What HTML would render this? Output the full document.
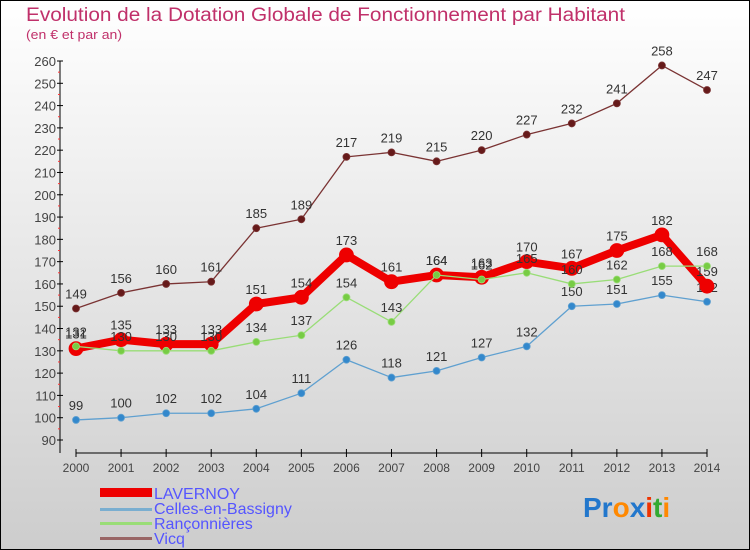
<!DOCTYPE html>
<html><head><meta charset="utf-8"><style>
body{margin:0}
svg{display:block;font-family:"Liberation Sans",sans-serif}
</style></head><body>
<svg id="c" width="750" height="550">
<defs><linearGradient id="bg" x1="0" y1="0" x2="0" y2="1"><stop offset="0" stop-color="#ffffff"/><stop offset="1" stop-color="#cdcdcd"/></linearGradient></defs>
<rect x="0.5" y="0.5" width="749" height="549" fill="url(#bg)" stroke="#000"/>
<text x="26" y="21" font-size="19" fill="#c0306a" textLength="599" lengthAdjust="spacingAndGlyphs">Evolution de la Dotation Globale de Fonctionnement par Habitant</text>
<text x="26" y="39" font-size="13" fill="#c0306a" textLength="96" lengthAdjust="spacingAndGlyphs">(en € et par an)</text>
<g id="axes"></g><g id="series"></g>
<g>
<rect x="100" y="488" width="52" height="9" fill="#ee0000"/>
<text x="154" y="499" font-size="16" fill="#5555ff">LAVERNOY</text>
<rect x="100" y="508" width="52" height="3" fill="#7aaed0"/>
<text x="154" y="514" font-size="16" fill="#5555ff">Celles-en-Bassigny</text>
<rect x="100" y="522" width="52" height="3" fill="#99dd77"/>
<text x="154" y="529" font-size="16" fill="#5555ff">Rançonnières</text>
<rect x="100" y="537" width="52" height="3" fill="#996666"/>
<text x="154" y="544" font-size="16" fill="#5555ff">Vicq</text>
</g>
<text x="583" y="517" font-size="28" font-weight="bold"><tspan fill="#2277cc">Pr</tspan><tspan fill="#ff8800">o</tspan><tspan fill="#2277cc">x</tspan><tspan fill="#ee3300">i</tspan><tspan fill="#33aa33">t</tspan><tspan fill="#ff8800">i</tspan></text>
</svg>
<script>
const years=["2000","2001","2002","2003","2004","2005","2006","2007","2008","2009","2010","2011","2012","2013","2014"];
const yTicks=[90,100,110,120,130,140,150,160,170,180,190,200,210,220,230,240,250,260];
const lavernoy=[131,135,133,133,151,154,173,161,164,163,170,167,175,182,159];
const celles=[99,100,102,102,104,111,126,118,121,127,132,150,151,155,152];
const ranconnieres=[132,130,130,130,134,137,154,143,164,162,165,160,162,168,168];
const vicq=[149,156,160,161,185,189,217,219,215,220,227,232,241,258,247];
const NS="http://www.w3.org/2000/svg";
const X=i=>76+i*(707-76)/14;
const Y=v=>440-(v-90)*(440-61)/170;
function mk(t,a,p){const e=document.createElementNS(NS,t);for(const k in a)e.setAttribute(k,a[k]);p.appendChild(e);return e;}
const ax=document.getElementById('axes');
let l=mk('line',{x1:60,y1:61,x2:60,y2:453,stroke:'#000'},ax);


l=mk('line',{x1:76,y1:453,x2:707,y2:453,stroke:'#000'},ax);


yTicks.forEach(v=>{
 mk('line',{x1:57,y1:Y(v),x2:63,y2:Y(v),stroke:'#000'},ax);
 if(v<260)mk('line',{x1:58,y1:Y(v+5),x2:60,y2:Y(v+5),stroke:'#ff3333'},ax);
 const t=mk('text',{x:56,y:Y(v)+5,'font-size':13,'text-anchor':'end',fill:'#444'},ax);
 t.textContent=v;
 
 
});
years.forEach((y,i)=>{
 mk('line',{x1:X(i),y1:449,x2:X(i),y2:457,stroke:'#000'},ax);
 const t=mk('text',{x:X(i),y:472,'font-size':12,'text-anchor':'middle',fill:'#444'},ax);
 t.textContent=y;
 
 
});
const sg=document.getElementById('series');
function draw(arr,name,color,w,r,dot){
 const g=mk('g',{},sg);
 
 
 const p=mk('polyline',{points:arr.map((v,i)=>X(i)+','+Y(v)).join(' '),fill:'none',stroke:color,'stroke-width':w,'stroke-linejoin':'round'},g);
 
 
 arr.forEach((v,i)=>{
  const c=mk('circle',{cx:X(i),cy:Y(v),r:r,fill:dot,stroke:color,'stroke-width':0.8},g);
  
  
  const t=mk('text',{x:X(i),y:Y(v)-10,'font-size':13,'text-anchor':'middle',fill:'#333'},g);
  t.textContent=v;
  
  
 });
}
draw(vicq,'vicq','#7a3333',1.3,3.5,'#661a1a');
draw(celles,'celles','#5fa0d0',1.3,3.5,'#3388cc');
draw(lavernoy,'lavernoy','#ee0000',8,7,'#ee0000');
draw(ranconnieres,'ranconnieres','#99dd77',1.3,3.5,'#77cc44');
</script>
</body></html>
